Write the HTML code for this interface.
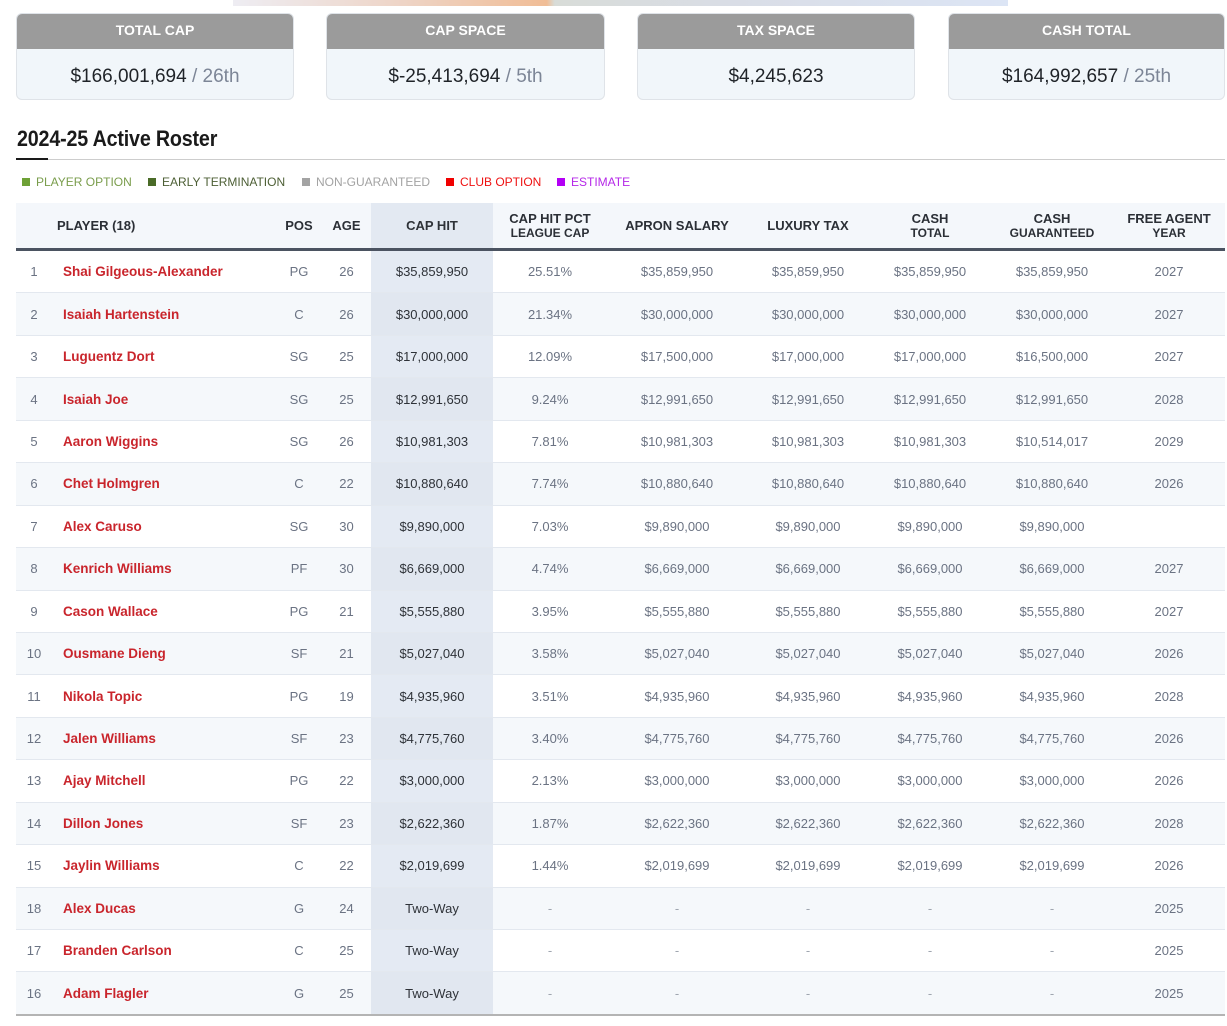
<!DOCTYPE html>
<html><head><meta charset="utf-8">
<style>
*{margin:0;padding:0;box-sizing:border-box}
html,body{width:1227px;height:1026px;background:#fff;overflow:hidden;font-family:"Liberation Sans",Arial,sans-serif;position:relative}
.strip{position:absolute;left:233px;top:0;width:775px;height:6px;background:linear-gradient(90deg,#eeedf3 0%,#eed4c6 22%,#f0bd96 40.5%,#d8dcd8 41.5%,#d9dde6 65%,#dce5f5 100%)}
.card{position:absolute;top:13px;height:87px;border:1px solid #dfe3e8;border-radius:6px;background:#f1f6fa;overflow:hidden}
.card .h{height:35px;background:#9b9b9b;color:#fff;font-weight:bold;font-size:14px;text-align:center;line-height:33px}
.card .v{height:51px;text-align:center;line-height:56px;font-size:19px;color:#1f2328}
.card .v span{color:#7c8596}
.title{position:absolute;left:17px;top:126px;font-size:22px;font-weight:bold;color:#1a1a1a;transform:scaleX(0.895);transform-origin:0 0;white-space:nowrap;letter-spacing:-0.2px}
.rule{position:absolute;left:16px;top:159px;width:1209px;height:1px;background:#cdcdcd}
.rule2{position:absolute;left:16px;top:158px;width:32px;height:2px;background:#1a1a1a}
.legend{position:absolute;top:175px;font-size:12px;line-height:14px;white-space:nowrap}
.legend i{display:inline-block;width:8px;height:8px;margin-right:6px;vertical-align:0px}
.tbl{position:absolute;left:16px;top:203px;width:1209px}
.row{display:flex;height:42.44px;border-bottom:1px solid #e3e8ef;align-items:center;font-size:13px;color:#6b7383}
.row.alt{background:#f5f8fb}
.row div{text-align:center;flex:none;height:100%;display:flex;align-items:center;justify-content:center}
.row.hdr{height:48px;background:#f4f7fb;border-bottom:3px solid #4b5361;font-weight:bold;color:#2b2f36;font-size:13px}
.hdr div{flex-direction:column;line-height:14px}
.hdr small{font-size:12px}
.c0{width:36px}
.c1{width:224px;justify-content:flex-start!important;padding-left:11px}
.hdr .c1{padding-left:5px;justify-content:center!important;align-items:flex-start!important}
.c2{width:46px}
.c3{width:49px}
.c4{width:122px;background:#e4eaf3;color:#2e3238}
.alt .c4{background:#e1e7f0}
.hdr .c4{background:#e3e9f2}
.c5{width:114px}
.c6{width:140px}
.c7{width:122px}
.c8{width:122px}
.c9{width:122px}
.c10{width:112px}
.nm{color:#c9252c;font-weight:bold;font-size:13.5px}
.d{color:#a0a6b0}
.bottom{position:absolute;left:16px;top:1014px;width:1209px;height:2px;background:#b4b4b4}
</style></head><body>
<div class="strip"></div>

<div class="card" style="left:16px;width:278px"><div class="h">TOTAL CAP</div><div class="v">$166,001,694 <span>/ 26th</span></div></div>
<div class="card" style="left:326px;width:279px"><div class="h">CAP SPACE</div><div class="v">$-25,413,694 <span>/ 5th</span></div></div>
<div class="card" style="left:637px;width:278px"><div class="h">TAX SPACE</div><div class="v">$4,245,623</div></div>
<div class="card" style="left:948px;width:277px"><div class="h">CASH TOTAL</div><div class="v">$164,992,657 <span>/ 25th</span></div></div>

<div class="title">2024-25 Active Roster</div>
<div class="rule"></div><div class="rule2"></div>

<div class="legend" style="left:22px;color:#7a9d4c"><i style="background:#6ea136"></i>PLAYER OPTION</div>
<div class="legend" style="left:148px;color:#4d5f35"><i style="background:#4a6b28"></i>EARLY TERMINATION</div>
<div class="legend" style="left:302px;color:#a3a3a3"><i style="background:#a3a3a3"></i>NON-GUARANTEED</div>
<div class="legend" style="left:446px;color:#ee1111"><i style="background:#f00000"></i>CLUB OPTION</div>
<div class="legend" style="left:557px;color:#b528e8"><i style="background:#b300f5"></i>ESTIMATE</div>

<div class="tbl">
<div class="row hdr"><div class="c0"></div><div class="c1">PLAYER (18)</div><div class="c2">POS</div><div class="c3">AGE</div><div class="c4">CAP HIT</div><div class="c5"><span>CAP HIT PCT</span><small>LEAGUE CAP</small></div><div class="c6">APRON SALARY</div><div class="c7">LUXURY TAX</div><div class="c8"><span>CASH</span><small>TOTAL</small></div><div class="c9"><span>CASH</span><small>GUARANTEED</small></div><div class="c10"><span>FREE AGENT</span><small>YEAR</small></div></div>

<div class="row"><div class="c0">1</div><div class="c1 nm">Shai Gilgeous-Alexander</div><div class="c2">PG</div><div class="c3">26</div><div class="c4">$35,859,950</div><div class="c5">25.51%</div><div class="c6">$35,859,950</div><div class="c7">$35,859,950</div><div class="c8">$35,859,950</div><div class="c9">$35,859,950</div><div class="c10">2027</div></div>
<div class="row alt"><div class="c0">2</div><div class="c1 nm">Isaiah Hartenstein</div><div class="c2">C</div><div class="c3">26</div><div class="c4">$30,000,000</div><div class="c5">21.34%</div><div class="c6">$30,000,000</div><div class="c7">$30,000,000</div><div class="c8">$30,000,000</div><div class="c9">$30,000,000</div><div class="c10">2027</div></div>
<div class="row"><div class="c0">3</div><div class="c1 nm">Luguentz Dort</div><div class="c2">SG</div><div class="c3">25</div><div class="c4">$17,000,000</div><div class="c5">12.09%</div><div class="c6">$17,500,000</div><div class="c7">$17,000,000</div><div class="c8">$17,000,000</div><div class="c9">$16,500,000</div><div class="c10">2027</div></div>
<div class="row alt"><div class="c0">4</div><div class="c1 nm">Isaiah Joe</div><div class="c2">SG</div><div class="c3">25</div><div class="c4">$12,991,650</div><div class="c5">9.24%</div><div class="c6">$12,991,650</div><div class="c7">$12,991,650</div><div class="c8">$12,991,650</div><div class="c9">$12,991,650</div><div class="c10">2028</div></div>
<div class="row"><div class="c0">5</div><div class="c1 nm">Aaron Wiggins</div><div class="c2">SG</div><div class="c3">26</div><div class="c4">$10,981,303</div><div class="c5">7.81%</div><div class="c6">$10,981,303</div><div class="c7">$10,981,303</div><div class="c8">$10,981,303</div><div class="c9">$10,514,017</div><div class="c10">2029</div></div>
<div class="row alt"><div class="c0">6</div><div class="c1 nm">Chet Holmgren</div><div class="c2">C</div><div class="c3">22</div><div class="c4">$10,880,640</div><div class="c5">7.74%</div><div class="c6">$10,880,640</div><div class="c7">$10,880,640</div><div class="c8">$10,880,640</div><div class="c9">$10,880,640</div><div class="c10">2026</div></div>
<div class="row"><div class="c0">7</div><div class="c1 nm">Alex Caruso</div><div class="c2">SG</div><div class="c3">30</div><div class="c4">$9,890,000</div><div class="c5">7.03%</div><div class="c6">$9,890,000</div><div class="c7">$9,890,000</div><div class="c8">$9,890,000</div><div class="c9">$9,890,000</div><div class="c10"></div></div>
<div class="row alt"><div class="c0">8</div><div class="c1 nm">Kenrich Williams</div><div class="c2">PF</div><div class="c3">30</div><div class="c4">$6,669,000</div><div class="c5">4.74%</div><div class="c6">$6,669,000</div><div class="c7">$6,669,000</div><div class="c8">$6,669,000</div><div class="c9">$6,669,000</div><div class="c10">2027</div></div>
<div class="row"><div class="c0">9</div><div class="c1 nm">Cason Wallace</div><div class="c2">PG</div><div class="c3">21</div><div class="c4">$5,555,880</div><div class="c5">3.95%</div><div class="c6">$5,555,880</div><div class="c7">$5,555,880</div><div class="c8">$5,555,880</div><div class="c9">$5,555,880</div><div class="c10">2027</div></div>
<div class="row alt"><div class="c0">10</div><div class="c1 nm">Ousmane Dieng</div><div class="c2">SF</div><div class="c3">21</div><div class="c4">$5,027,040</div><div class="c5">3.58%</div><div class="c6">$5,027,040</div><div class="c7">$5,027,040</div><div class="c8">$5,027,040</div><div class="c9">$5,027,040</div><div class="c10">2026</div></div>
<div class="row"><div class="c0">11</div><div class="c1 nm">Nikola Topic</div><div class="c2">PG</div><div class="c3">19</div><div class="c4">$4,935,960</div><div class="c5">3.51%</div><div class="c6">$4,935,960</div><div class="c7">$4,935,960</div><div class="c8">$4,935,960</div><div class="c9">$4,935,960</div><div class="c10">2028</div></div>
<div class="row alt"><div class="c0">12</div><div class="c1 nm">Jalen Williams</div><div class="c2">SF</div><div class="c3">23</div><div class="c4">$4,775,760</div><div class="c5">3.40%</div><div class="c6">$4,775,760</div><div class="c7">$4,775,760</div><div class="c8">$4,775,760</div><div class="c9">$4,775,760</div><div class="c10">2026</div></div>
<div class="row"><div class="c0">13</div><div class="c1 nm">Ajay Mitchell</div><div class="c2">PG</div><div class="c3">22</div><div class="c4">$3,000,000</div><div class="c5">2.13%</div><div class="c6">$3,000,000</div><div class="c7">$3,000,000</div><div class="c8">$3,000,000</div><div class="c9">$3,000,000</div><div class="c10">2026</div></div>
<div class="row alt"><div class="c0">14</div><div class="c1 nm">Dillon Jones</div><div class="c2">SF</div><div class="c3">23</div><div class="c4">$2,622,360</div><div class="c5">1.87%</div><div class="c6">$2,622,360</div><div class="c7">$2,622,360</div><div class="c8">$2,622,360</div><div class="c9">$2,622,360</div><div class="c10">2028</div></div>
<div class="row"><div class="c0">15</div><div class="c1 nm">Jaylin Williams</div><div class="c2">C</div><div class="c3">22</div><div class="c4">$2,019,699</div><div class="c5">1.44%</div><div class="c6">$2,019,699</div><div class="c7">$2,019,699</div><div class="c8">$2,019,699</div><div class="c9">$2,019,699</div><div class="c10">2026</div></div>
<div class="row alt"><div class="c0">18</div><div class="c1 nm">Alex Ducas</div><div class="c2">G</div><div class="c3">24</div><div class="c4">Two-Way</div><div class="c5 d">-</div><div class="c6 d">-</div><div class="c7 d">-</div><div class="c8 d">-</div><div class="c9 d">-</div><div class="c10">2025</div></div>
<div class="row"><div class="c0">17</div><div class="c1 nm">Branden Carlson</div><div class="c2">C</div><div class="c3">25</div><div class="c4">Two-Way</div><div class="c5 d">-</div><div class="c6 d">-</div><div class="c7 d">-</div><div class="c8 d">-</div><div class="c9 d">-</div><div class="c10">2025</div></div>
<div class="row alt" style="border-bottom:none"><div class="c0">16</div><div class="c1 nm">Adam Flagler</div><div class="c2">G</div><div class="c3">25</div><div class="c4">Two-Way</div><div class="c5 d">-</div><div class="c6 d">-</div><div class="c7 d">-</div><div class="c8 d">-</div><div class="c9 d">-</div><div class="c10">2025</div></div>
</div>
<div class="bottom"></div>
</body></html>
